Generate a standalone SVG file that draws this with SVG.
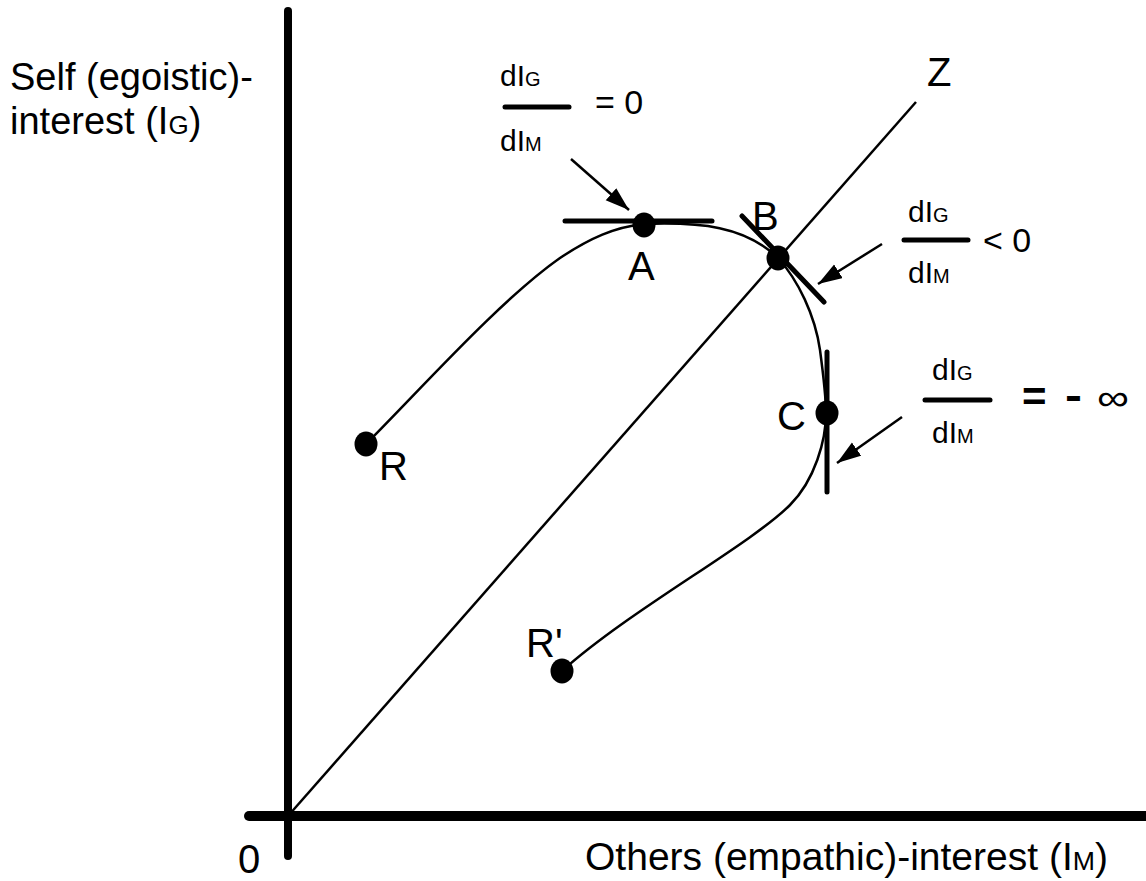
<svg xmlns="http://www.w3.org/2000/svg" width="1146" height="881" viewBox="0 0 1146 881">
<style>
text{font-family:"Liberation Sans",Arial,sans-serif;fill:#000}
.lab{font-size:38px}
.pt{font-size:40px}
.fr{font-size:30px}
.sub{font-size:20px}
.thin{fill:none;stroke:#000;stroke-width:2.5}
.thick{fill:none;stroke:#000;stroke-width:5;stroke-linecap:round}
.dot{fill:#000}
</style>
<defs>
<marker id="ah" markerUnits="userSpaceOnUse" markerWidth="26" markerHeight="18" refX="24" refY="8" orient="auto">
<path d="M0,0 L24,8 L0,16 Z" fill="#000"/>
</marker>
</defs>
<g id="axes">
<line x1="288" y1="11" x2="288" y2="856" stroke="#000" stroke-width="8" stroke-linecap="round"/>
<line x1="249" y1="816" x2="1160" y2="816" stroke="#000" stroke-width="10" stroke-linecap="round"/>
<text class="lab" x="10" y="90">Self (egoistic)-</text>
<text class="lab" x="10" y="134">interest (I<tspan font-size="26">G</tspan>)</text>
<text class="lab" x="585" y="870" textLength="523" lengthAdjust="spacingAndGlyphs">Others (empathic)-interest (I<tspan font-size="26">M</tspan>)</text>
<text class="pt" x="238" y="873">0</text>
</g>
<g id="connectors">
<line class="thin" x1="288" y1="816" x2="916" y2="102"/>
<path class="thin" d="M366,444 C420,390 500,300 560,258 C590,238 615,227 644,224 C700,222 745,226 778,258 C798,280 815,315 820,350 C824,380 826,400 826,413 C826,440 815,480 790,505 C750,545 630,610 562,671"/>
<line class="thin" x1="571" y1="159" x2="629" y2="210" marker-end="url(#ah)"/>
<line class="thin" x1="882" y1="244" x2="818" y2="284" marker-end="url(#ah)"/>
<line class="thin" x1="902" y1="417" x2="837" y2="463" marker-end="url(#ah)"/>
</g>
<g id="Z"><text class="pt" x="927" y="86">Z</text></g>
<g id="R">
<ellipse class="dot" cx="366" cy="444" rx="11.5" ry="12.5"/>
<text class="pt" x="379" y="480">R</text>
</g>
<g id="A">
<line class="thick" x1="565" y1="221" x2="712" y2="221"/>
<ellipse class="dot" cx="644" cy="225" rx="11.5" ry="12.5"/>
<text class="pt" x="628" y="280">A</text>
</g>
<g id="B">
<line class="thick" x1="742" y1="216" x2="824" y2="302"/>
<ellipse class="dot" cx="778" cy="258" rx="11.5" ry="12.5"/>
<text class="pt" x="752" y="230">B</text>
</g>
<g id="C">
<line class="thick" x1="827" y1="352" x2="827" y2="492"/>
<ellipse class="dot" cx="827" cy="413" rx="11.5" ry="12.5"/>
<text class="pt" x="777" y="430">C</text>
</g>
<g id="Rp">
<ellipse class="dot" cx="562" cy="671" rx="11.5" ry="12.5"/>
<text class="pt" x="526" y="657">R'</text>
</g>
<g id="fracA">
<text class="fr" x="500" y="86">dI<tspan class="sub">G</tspan></text>
<line class="thick" x1="505" y1="107" x2="569" y2="107"/>
<text class="fr" x="500" y="151">dI<tspan class="sub">M</tspan></text>
<text font-size="34" x="595" y="114">= 0</text>
</g>
<g id="fracB">
<text class="fr" x="908" y="222">dI<tspan class="sub">G</tspan></text>
<line class="thick" x1="904" y1="240" x2="968" y2="240"/>
<text class="fr" x="908" y="283">dI<tspan class="sub">M</tspan></text>
<text font-size="34" x="983" y="252">&lt; 0</text>
</g>
<g id="fracC">
<text class="fr" x="932" y="380">dI<tspan class="sub">G</tspan></text>
<line class="thick" x1="925" y1="400" x2="990" y2="400"/>
<text class="fr" x="932" y="443">dI<tspan class="sub">M</tspan></text>
<text font-size="42" font-weight="bold" x="1022" y="411">=</text>
<text font-size="42" font-weight="bold" x="1065" y="410" textLength="17" lengthAdjust="spacingAndGlyphs">-</text>
<text font-size="36" x="1097" y="410" textLength="32" lengthAdjust="spacingAndGlyphs">∞</text>
</g>
</svg>
